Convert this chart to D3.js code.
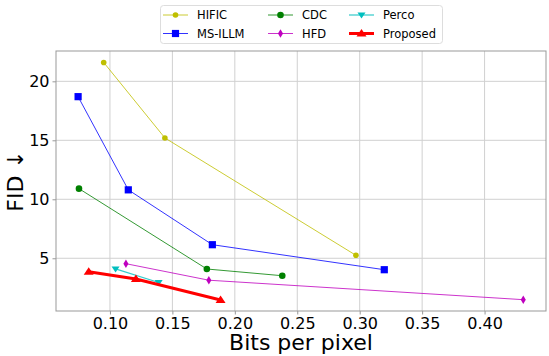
<!DOCTYPE html>
<html>
<head>
<meta charset="utf-8">
<script src="https://cdn.jsdelivr.net/npm/d3@7"></script>
<style>
  html, body { margin: 0; padding: 0; background: #fff; }
  svg { display: block; font-family: "DejaVu Sans", sans-serif; }
</style>
</head>
<body>
<div id="chart"></div>
<script>
// Rate-distortion points
const hificBpp = [0.095, 0.144, 0.297];
const hificFid = [21.6, 15.2, 5.25];
const msillmBpp = [0.0745, 0.1147, 0.182, 0.3197];
const msillmFid = [18.7, 10.8, 6.15, 4.03];
const cdcBpp = [0.0752, 0.1776, 0.238];
const cdcFid = [10.9, 4.09, 3.52];
const hfdBpp = [0.1128, 0.1792, 0.431];
const hfdFid = [4.54, 3.14, 1.49];
const percoBpp = [0.1045, 0.139];
const percoFid = [4.1, 2.95];
const proposedBpp = [0.083, 0.1208, 0.1886];
const proposedFid = [3.86, 3.24, 1.46];

const xTicks = [0.10, 0.15, 0.20, 0.25, 0.30, 0.35, 0.40];
const yTicks = [5, 10, 15, 20];

const series = [
  { name: 'HIFIC', bpp: hificBpp, fid: hificFid, color: '#bfbf00', marker: 'circle', size: 2.8, lw: 1 },
  { name: 'MS-ILLM', bpp: msillmBpp, fid: msillmFid, color: '#0000ff', marker: 'square', size: 3.6, lw: 1 },
  { name: 'CDC', bpp: cdcBpp, fid: cdcFid, color: '#008000', marker: 'circle', size: 3.3, lw: 1 },
  { name: 'HFD', bpp: hfdBpp, fid: hfdFid, color: '#bf00bf', marker: 'thin_diamond', size: 4.2, lw: 1 },
  { name: 'Perco', bpp: percoBpp, fid: percoFid, color: '#00bfbf', marker: 'tri_down', size: 4, lw: 1.2 },
  { name: 'Proposed', bpp: proposedBpp, fid: proposedFid, color: '#ff0000', marker: 'tri_up', size: 5, lw: 3 }
];

const W = 549, H = 356;
const margin = { top: 51, right: 3, bottom: 45, left: 56 };
const width = W - margin.left - margin.right;
const height = H - margin.top - margin.bottom;

const svg = d3.select('#chart').append('svg')
  .attr('width', W).attr('height', H);

const g = svg.append('g')
  .attr('transform', `translate(${margin.left},${margin.top})`);

const x = d3.scaleLinear().domain([0.0568, 0.4492]).range([0, width]);
const y = d3.scaleLinear().domain([0.53, 22.57]).range([height, 0]);

// grid
g.selectAll('.gx').data(xTicks).join('line')
  .attr('x1', d => x(d)).attr('x2', d => x(d))
  .attr('y1', 0).attr('y2', height)
  .attr('stroke', '#d0d0d0').attr('stroke-width', 1);
g.selectAll('.gy').data(yTicks).join('line')
  .attr('y1', d => y(d)).attr('y2', d => y(d))
  .attr('x1', 0).attr('x2', width)
  .attr('stroke', '#d0d0d0').attr('stroke-width', 1);

// axes
const xAxis = g.append('g')
  .attr('transform', `translate(0,${height})`)
  .call(d3.axisBottom(x).tickValues(xTicks).tickFormat(d3.format('.2f')).tickSize(3.5).tickPadding(3));
const yAxis = g.append('g')
  .call(d3.axisLeft(y).tickValues(yTicks).tickFormat(d3.format('d')).tickSize(3.5).tickPadding(3));
[xAxis, yAxis].forEach(a => {
  a.select('.domain').remove();
  a.selectAll('line').attr('stroke', '#999');
  a.selectAll('text').attr('fill', '#000').style('font-size', '16px')
    .style('font-family', '"DejaVu Sans", sans-serif');
});

function markerPath(type, s) {
  switch (type) {
    case 'square': return `M${-s},${-s}H${s}V${s}H${-s}Z`;
    case 'thin_diamond': return `M0,${-s}L${s * 0.6},0L0,${s}L${-s * 0.6},0Z`;
    case 'tri_down': return `M${-s},${-s * 0.6}L${s},${-s * 0.6}L0,${s * 0.9}Z`;
    case 'tri_up': return `M${-s},${s * 0.6}L${s},${s * 0.6}L0,${-s * 0.9}Z`;
  }
  return null;
}

function drawMarker(sel, s, cx, cy) {
  if (s.marker === 'circle') {
    sel.append('circle').attr('cx', cx).attr('cy', cy).attr('r', s.size).attr('fill', s.color);
  } else {
    sel.append('path').attr('d', markerPath(s.marker, s.size))
      .attr('transform', `translate(${cx},${cy})`).attr('fill', s.color);
  }
}

const line = d3.line().x(d => x(d[0])).y(d => y(d[1]));

const plot = g.append('g');
series.forEach(s => {
  const pts = s.bpp.map((b, i) => [b, s.fid[i]]);
  plot.append('path').datum(pts)
    .attr('d', line)
    .attr('fill', 'none')
    .attr('stroke', s.color)
    .attr('stroke-width', s.lw)
    .attr('opacity', s.lw > 2 ? 1 : 0.8);
  pts.forEach(p => drawMarker(plot, s, x(p[0]), y(p[1])));
});

// frame
g.append('rect').attr('width', width).attr('height', height)
  .attr('fill', 'none').attr('stroke', '#999').attr('stroke-width', 1);

// axis labels
svg.append('text')
  .attr('x', margin.left + width / 2).attr('y', 350)
  .attr('text-anchor', 'middle')
  .style('font-size', '22px')
  .text('Bits per pixel');
svg.append('text')
  .attr('transform', `translate(23,${margin.top + height / 2}) rotate(-90)`)
  .attr('text-anchor', 'middle')
  .style('font-size', '22px')
  .text('FID ↓');

// legend
const legend = svg.append('g');
legend.append('rect')
  .attr('x', 160.5).attr('y', 5.5).attr('width', 282).attr('height', 38)
  .attr('rx', 3).attr('fill', '#fff').attr('stroke', '#ddd');
const colX = [163, 268, 349];
const rowY = [15, 33.5];
series.forEach((s, i) => {
  const cx = colX[Math.floor(i / 2)];
  const cy = rowY[i % 2];
  legend.append('line')
    .attr('x1', cx).attr('x2', cx + 25).attr('y1', cy).attr('y2', cy)
    .attr('stroke', s.color).attr('stroke-width', s.lw)
    .attr('opacity', s.lw > 2 ? 1 : 0.8);
  drawMarker(legend, s, cx + 12.5, cy);
  legend.append('text')
    .attr('x', cx + 34).attr('y', cy + 4)
    .style('font-size', '11.5px')
    .text(s.name);
});
</script>
</body>
</html>
